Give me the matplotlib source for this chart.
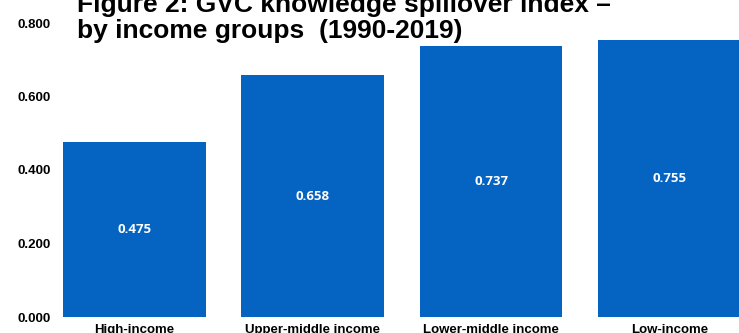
import matplotlib
matplotlib.use("Agg")
import matplotlib.pyplot as plt

categories = ["High-income", "Upper-middle income", "Lower-middle income", "Low-income"]
spillover = [0.475, 0.658, 0.737, 0.755]
y_ticks = [0.0, 0.2, 0.4, 0.6, 0.8]

bar_color = "#0563C1"

fig = plt.figure(figsize=(7.39, 3.33), dpi=100)
ax = fig.add_axes([56 / 739, 16 / 333, 702.5 / 739, 294 / 333])

x = range(len(categories))
bars = ax.bar(x, spillover, width=0.8, color=bar_color, zorder=2)

# value labels sit in the middle of each bar
for b, v in zip(bars, spillover):
    ax.text(b.get_x() + b.get_width() / 2, v / 2, f"{v:.3f}",
            ha="center", va="center", color="white",
            fontsize=9.5, fontweight="bold", family="Open Sans")

ax.set_xlim(-0.44, 3.5)
ax.set_ylim(0, 0.8)
ax.set_yticks(y_ticks)
ax.set_yticklabels([f"{t:.3f}" for t in y_ticks],
                   fontsize=9.5, fontweight="bold", family="Liberation Sans")
ax.set_xticks(list(x))
ax.set_xticklabels(categories, fontsize=9.5, fontweight="bold", family="Liberation Sans")
ax.tick_params(axis="both", length=0)
ax.tick_params(axis="y", pad=4)
ax.tick_params(axis="x", pad=5)
for s in ax.spines.values():
    s.set_visible(False)

# two-line title, partly clipped at the top edge
fig.text(77 / 739, 1 - 12 / 333, "Figure 2: GVC knowledge spillover index \u2013",
         fontsize=19, fontweight="bold", family="Liberation Sans", va="baseline")
fig.text(77 / 739, 1 - 38 / 333, "by income groups  (1990-2019)",
         fontsize=19, fontweight="bold", family="Liberation Sans", va="baseline")

fig.savefig("out.png", dpi=100)
